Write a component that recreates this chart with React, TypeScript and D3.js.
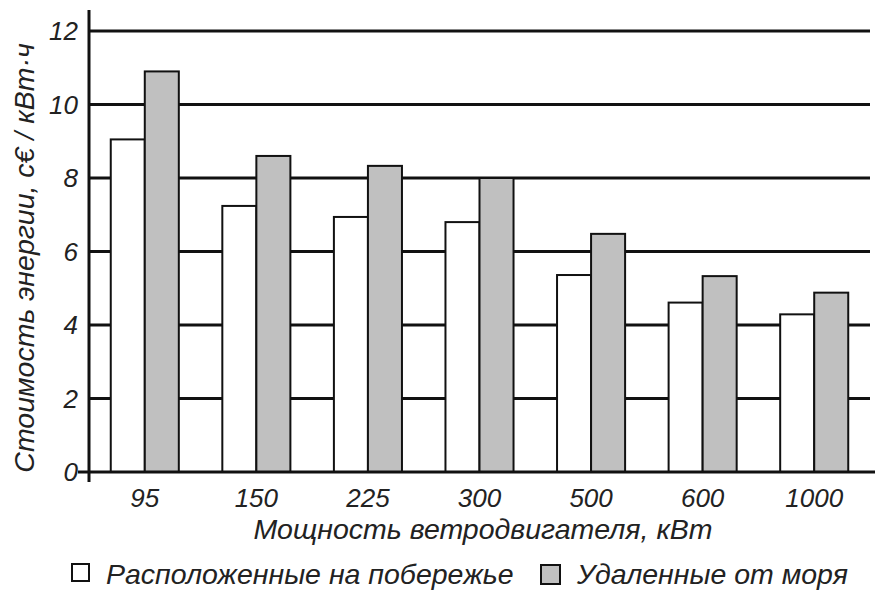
import React from "react";
import * as d3 from "d3";

const categories = ["95", "150", "225", "300", "500", "600", "1000"];
const coastal = [9.05, 7.24, 6.94, 6.8, 5.36, 4.61, 4.29];
const inland = [10.9, 8.6, 8.33, 8.0, 6.48, 5.33, 4.88];
const yTicks = [0, 2, 4, 6, 8, 10, 12];
const seriesNames = ["Расположенные на побережье", "Удаленные от моря"];

const W = 875, H = 590;
const left = 89, right = 870, top = 31, bottom = 472;
const FONT = "'Liberation Sans', Arial, sans-serif";
const TICK = 26;
const TITLE = 28.5;

export default function App() {
  const y = d3.scaleLinear().domain([0, 12]).range([bottom, top]);
  const x = d3.scaleBand().domain(categories).range([left, right]).paddingInner(0.39).paddingOuter(0.195);
  const inner = d3.scaleBand().domain(["c", "i"]).range([0, x.bandwidth()]);
  const bw = inner.bandwidth();
  return (
    <svg width={W} height={H} style={{ position: "absolute", left: 0, top: 0, background: "#fff" }}>
      {yTicks.filter((t) => t > 0).map((t) => (
        <line key={t} x1={left} x2={right} y1={y(t)} y2={y(t)} stroke="#111" strokeWidth={3} />
      ))}
      {categories.map((c, i) => (
        <g key={c}>
          <rect x={(x(c) as number) + (inner("c") as number)} y={y(coastal[i])} width={bw} height={bottom - y(coastal[i])} fill="#fff" stroke="#111" strokeWidth={2} />
          <rect x={(x(c) as number) + (inner("i") as number)} y={y(inland[i])} width={bw} height={bottom - y(inland[i])} fill="#c0c0c0" stroke="#111" strokeWidth={2} />
        </g>
      ))}
      <line x1={left} x2={left} y1={10} y2={482} stroke="#111" strokeWidth={3} />
      <line x1={78} x2={875} y1={bottom} y2={bottom} stroke="#111" strokeWidth={3} />
      {yTicks.map((t) => (
        <text key={t} x={78} y={y(t) + 9} textAnchor="end" fontFamily={FONT} fontStyle="italic" fontSize={TICK} fill="#222">{t}</text>
      ))}
      {categories.map((c) => (
        <text key={c} x={(x(c) as number) + x.bandwidth() / 2} y={507} textAnchor="middle" fontFamily={FONT} fontStyle="italic" fontSize={TICK} fill="#222">{c}</text>
      ))}
      <text x={483} y={539} textAnchor="middle" fontFamily={FONT} fontStyle="italic" fontSize={TITLE} fill="#222">Мощность ветродвигателя, кВт</text>
      <text transform={`translate(34,258) rotate(-90)`} textAnchor="middle" fontFamily={FONT} fontStyle="italic" fontSize={TITLE} fill="#222">Стоимость энергии, с€ / кВт·ч</text>
      <rect x={72} y={564} width={17} height={17} fill="#fff" stroke="#111" strokeWidth={2} />
      <text x={106} y={584} fontFamily={FONT} fontStyle="italic" fontSize={TITLE} fill="#222">{seriesNames[0]}</text>
      <rect x={541} y={565} width={19} height={19} fill="#c0c0c0" stroke="#111" strokeWidth={2} />
      <text x={577} y={584} fontFamily={FONT} fontStyle="italic" fontSize={TITLE} fill="#222">{seriesNames[1]}</text>
    </svg>
  );
}
